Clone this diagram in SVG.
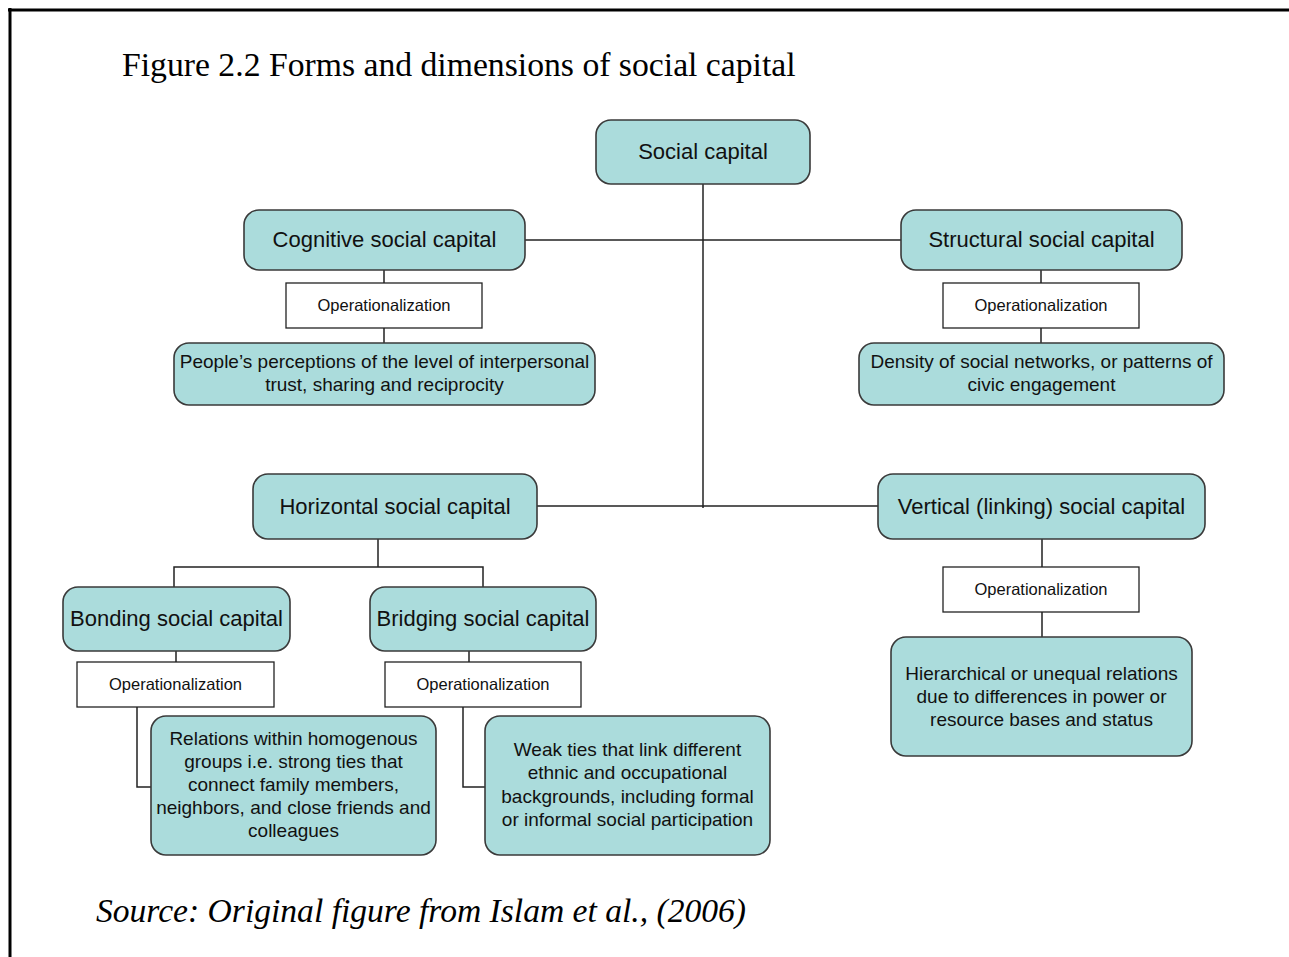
<svg xmlns="http://www.w3.org/2000/svg" width="1289" height="957" viewBox="0 0 1289 957">
<style>
.n{fill:#abdcdc;stroke:#3a3a3a;stroke-width:1.6}
.o{fill:#fff;stroke:#222;stroke-width:1.3}
.t{font-family:"Liberation Sans",Arial,sans-serif;font-size:22px;fill:#111;text-anchor:middle}
.s{font-family:"Liberation Sans",Arial,sans-serif;font-size:19px;fill:#111;text-anchor:middle}
.op{font-family:"Liberation Sans",Arial,sans-serif;font-size:16.5px;fill:#111;text-anchor:middle}
.c{fill:none;stroke:#222;stroke-width:1.5}
</style>
<rect width="1289" height="957" fill="#fff"/>
<g id="frame">
<line x1="8" y1="10" x2="1289" y2="10" stroke="#000" stroke-width="3"/>
<line x1="10" y1="8" x2="10" y2="957" stroke="#000" stroke-width="3"/>
</g>
<text x="122" y="76" font-family="Liberation Serif,Times New Roman,serif" font-size="33.7" fill="#000">Figure 2.2 Forms and dimensions of social capital</text>
<g id="connectors">
<path class="c" d="M703 184V508"/>
<path class="c" d="M525 240H901"/>
<path class="c" d="M537 506H878"/>
<path class="c" d="M384 270V283M384 328V343"/>
<path class="c" d="M1041 270V283M1041 328V343"/>
<path class="c" d="M1042 539V567M1042 612V637"/>
<path class="c" d="M378 539V567M174 587V567H483V587"/>
<path class="c" d="M176 651V662M469 651V662"/>
<path class="c" d="M137 707V787H151"/>
<path class="c" d="M463 707V787H485"/>
</g>
<g id="social-capital">
<rect class="n" x="596" y="120" width="214" height="64" rx="15"/>
<text class="t" x="703" y="159">Social capital</text>
</g>
<g id="cognitive">
<rect class="n" x="244" y="210" width="281" height="60" rx="15"/>
<text class="t" x="384.5" y="247">Cognitive social capital</text>
</g>
<g id="structural">
<rect class="n" x="901" y="210" width="281" height="60" rx="15"/>
<text class="t" x="1041.5" y="247">Structural social capital</text>
</g>
<g id="op-cognitive">
<rect class="o" x="286" y="283" width="196" height="45"/>
<text class="op" x="384" y="311">Operationalization</text>
</g>
<g id="op-structural">
<rect class="o" x="943" y="283" width="196" height="45"/>
<text class="op" x="1041" y="311">Operationalization</text>
</g>
<g id="perceptions">
<rect class="n" x="174" y="343" width="421" height="62" rx="15"/>
<text class="s" x="384.5" y="368">People’s perceptions of the level of interpersonal</text>
<text class="s" x="384.5" y="391">trust, sharing and reciprocity</text>
</g>
<g id="density">
<rect class="n" x="859" y="343" width="365" height="62" rx="15"/>
<text class="s" x="1041.5" y="368">Density of social networks, or patterns of</text>
<text class="s" x="1041.5" y="391">civic engagement</text>
</g>
<g id="horizontal">
<rect class="n" x="253" y="474" width="284" height="65" rx="15"/>
<text class="t" x="395" y="514">Horizontal social capital</text>
</g>
<g id="vertical">
<rect class="n" x="878" y="474" width="327" height="65" rx="15"/>
<text class="t" x="1041.5" y="514">Vertical (linking) social capital</text>
</g>
<g id="op-vertical">
<rect class="o" x="943" y="567" width="196" height="45"/>
<text class="op" x="1041" y="595">Operationalization</text>
</g>
<g id="hierarchical">
<rect class="n" x="891" y="637" width="301" height="119" rx="15"/>
<text class="s" x="1041.5" y="680">Hierarchical or unequal relations</text>
<text class="s" x="1041.5" y="703">due to differences in power or</text>
<text class="s" x="1041.5" y="726">resource bases and status</text>
</g>
<g id="bonding">
<rect class="n" x="63" y="587" width="227" height="64" rx="15"/>
<text class="t" x="176.5" y="626">Bonding social capital</text>
</g>
<g id="bridging">
<rect class="n" x="370" y="587" width="226" height="64" rx="15"/>
<text class="t" x="483" y="626">Bridging social capital</text>
</g>
<g id="op-bonding">
<rect class="o" x="77" y="662" width="197" height="45"/>
<text class="op" x="175.5" y="690">Operationalization</text>
</g>
<g id="op-bridging">
<rect class="o" x="385" y="662" width="196" height="45"/>
<text class="op" x="483" y="690">Operationalization</text>
</g>
<g id="relations">
<rect class="n" x="151" y="716" width="285" height="139" rx="15"/>
<text class="s" x="293.5" y="745">Relations within homogenous</text>
<text class="s" x="293.5" y="768">groups i.e. strong ties that</text>
<text class="s" x="293.5" y="791">connect family members,</text>
<text class="s" x="293.5" y="814">neighbors, and close friends and</text>
<text class="s" x="293.5" y="837">colleagues</text>
</g>
<g id="weak-ties">
<rect class="n" x="485" y="716" width="285" height="139" rx="15"/>
<text class="s" x="627.5" y="756">Weak ties that link different</text>
<text class="s" x="627.5" y="779">ethnic and occupational</text>
<text class="s" x="627.5" y="803">backgrounds, including formal</text>
<text class="s" x="627.5" y="826">or informal social participation</text>
</g>
<text x="96" y="922" font-family="Liberation Serif,Times New Roman,serif" font-style="italic" font-size="33.6" fill="#000">Source: Original figure from Islam et al., (2006)</text>
</svg>
